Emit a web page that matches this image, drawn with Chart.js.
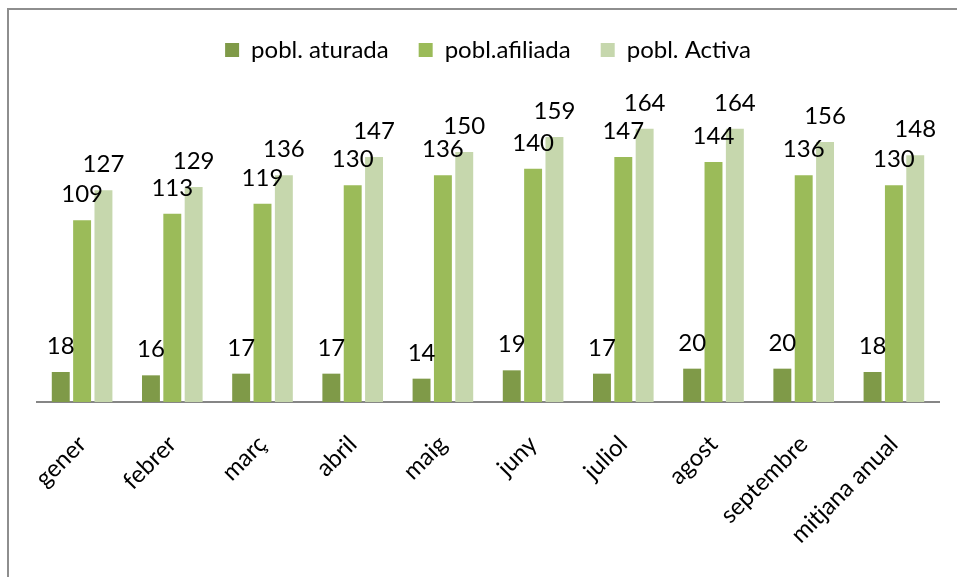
<!DOCTYPE html>
<html>
<head>
<meta charset="utf-8">
<script src="https://cdn.jsdelivr.net/npm/chart.js@4.4.1/dist/chart.umd.min.js"></script>
<style>
  html, body { margin: 0; padding: 0; background: #fff; overflow: hidden; }
  #wrap { position: absolute; left: 0; top: 0; width: 957px; height: 577px; }
  #frame { position: absolute; left: 7px; top: 8px; width: 1100px; height: 1100px; border: 2px solid #8e8e8e; box-sizing: border-box; pointer-events: none; }
</style>
</head>
<body>
<div id="wrap"><canvas id="c" width="957" height="577"></canvas></div>
<div id="frame"></div>
<script>
const categories = ['gener', 'febrer', 'març', 'abril', 'maig', 'juny', 'juliol', 'agost', 'septembre', 'mitjana anual'];
const seriesNames = ['pobl. aturada', 'pobl.afiliada', 'pobl. Activa'];
const aturada = [18, 16, 17, 17, 14, 19, 17, 20, 20, 18];
const afiliada = [109, 113, 119, 130, 136, 140, 147, 144, 136, 130];
const activa = [127, 129, 136, 147, 150, 159, 164, 164, 156, 148];
const colors = ['#7f9a48', '#9bbb59', '#c6d7ad'];

const FONT = 'Lato, "Liberation Sans", sans-serif';

const labelPlugin = {
  id: 'valueLabels',
  afterDatasetsDraw(chart) {
    const ctx = chart.ctx;
    ctx.save();
    ctx.fillStyle = '#000';
    ctx.font = '24px ' + FONT;
    ctx.textAlign = 'center';
    ctx.textBaseline = 'alphabetic';
    chart.data.datasets.forEach((ds, di) => {
      const meta = chart.getDatasetMeta(di);
      meta.data.forEach((bar, i) => {
        ctx.fillText(String(ds.data[i]), bar.x, bar.y - 18);
      });
    });
    ctx.restore();
  }
};

const legendHeightPlugin = {
  id: 'legendHeight',
  beforeInit(chart) {
    const origFit = chart.legend.fit;
    chart.legend.fit = function () {
      origFit.call(this);
      this.height = 94;
    };
  }
};

new Chart(document.getElementById('c'), {
  type: 'bar',
  data: {
    labels: categories,
    datasets: [
      { label: seriesNames[0], data: aturada, backgroundColor: colors[0] },
      { label: seriesNames[1], data: afiliada, backgroundColor: colors[1] },
      { label: seriesNames[2], data: activa, backgroundColor: colors[2] }
    ]
  },
  options: {
    responsive: false,
    animation: false,
    devicePixelRatio: 1,
    layout: { padding: { left: 37, right: 18, top: 8, bottom: 0 } },
    datasets: { bar: { categoryPercentage: 0.71, barPercentage: 0.84 } },
    plugins: {
      legend: {
        position: 'top',
        labels: {
          font: { family: FONT, size: 24 },
          color: '#000',
          boxWidth: 14,
          boxHeight: 14,
          padding: 30
        }
      },
      tooltip: { enabled: false }
    },
    scales: {
      x: {
        grid: { display: false, drawTicks: false },
        border: { display: true, color: '#868686', width: 2 },
        ticks: {
          font: { family: FONT, size: 24 },
          color: '#000',
          minRotation: 45,
          maxRotation: 45,
          autoSkip: false,
          padding: 28
        },
        afterFit(scale) { scale.height = 175; }
      },
      y: {
        display: false,
        min: 0,
        max: 180,
        grid: { display: false }
      }
    }
  },
  plugins: [labelPlugin, legendHeightPlugin]
});
</script>
</body>
</html>
